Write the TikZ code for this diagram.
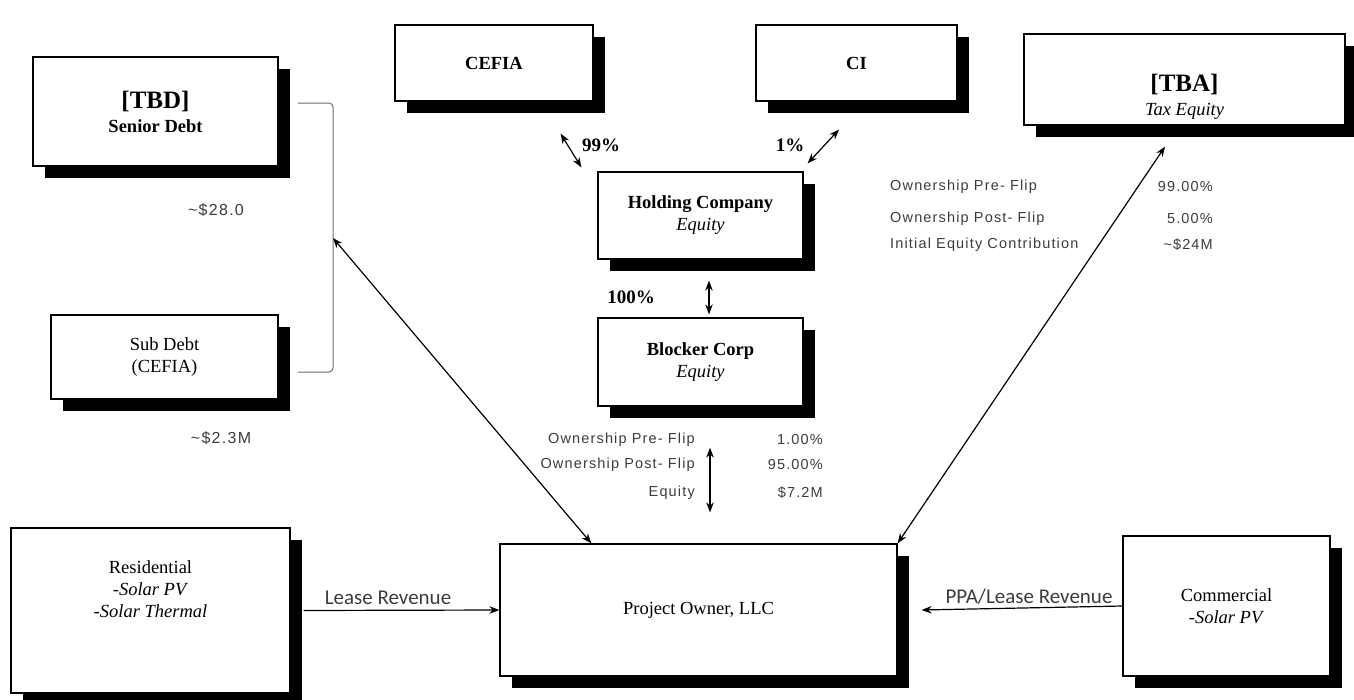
\documentclass[tikz,border=0pt]{standalone}
\usepackage{fontspec}
\setmainfont{Liberation Serif}
\setsansfont{Liberation Sans}
\newfontfamily\calibri{Carlito}
\newfontfamily\termfont[LetterSpace=8]{Liberation Sans}
\usetikzlibrary{arrows.meta,shadows}
\definecolor{notegray}{RGB}{60,60,60}
\definecolor{bracketgray}{RGB}{110,110,110}

\begin{document}
\begin{tikzpicture}[x=1pt, y=-1pt,
    box/.style={draw, fill=white, line width=1.2pt, align=center,
        drop shadow={shadow xshift=12pt, shadow yshift=-12pt, fill=black, opacity=1},
        font=\fontsize{18.5}{22}\selectfont},
    boxtext/.style={align=center, font=\fontsize{18.5}{22}\selectfont},
    amount/.style={font=\termfont\fontsize{16}{18}\selectfont, text=notegray},
    term/.style={font=\termfont\fontsize{14.5}{16}\selectfont, text=notegray, inner sep=0pt},
    share/.style={font=\bfseries\fontsize{19}{22}\selectfont},
    flow/.style={font=\calibri\fontsize{21}{24}\selectfont, text=notegray},
    link/.style={line width=1.2pt, {Stealth[length=10pt,width=7.5pt]}-{Stealth[length=10pt,width=7.5pt]}},
    feed/.style={line width=1.2pt, -{Stealth[length=10pt,width=7.5pt]}}
]
\useasboundingbox (0,0) rectangle (1354,699);

% lenders
\node[box, minimum width=245, minimum height=109] (tbd) at (155.5,111.5)
  {{\fontsize{25}{27}\selectfont\bfseries [TBD]}\\[2pt] \textbf{Senior Debt}};
\node[box, minimum width=227, minimum height=84] (sub) at (164.5,357) {Sub Debt\\(CEFIA)};

% sponsors
\node[box, minimum width=198, minimum height=76] (cefia) at (494,63) {\textbf{CEFIA}};
\node[box, minimum width=201, minimum height=76] (ci) at (856.5,63) {\textbf{CI}};
\node[box, minimum width=321, minimum height=91,
  label={[boxtext, yshift=-17pt]center:{{\fontsize{25}{27}\selectfont\bfseries [TBA]}\\[2pt] \textit{Tax Equity}}}] (tba) at (1184.5,79.5) {};
\node[box, minimum width=205, minimum height=87] (hold) at (700.5,215.5) {\textbf{Holding Company}\\\textit{Equity}};
\node[box, minimum width=205, minimum height=88] (block) at (700.5,362) {\textbf{Blocker Corp}\\\textit{Equity}};

% project and customers
\node[box, minimum width=397, minimum height=132] (owner) at (698.5,610) {Project Owner, LLC};
\node[box, minimum width=279, minimum height=165,
  label={[boxtext, yshift=21pt]center:{Residential\\\textit{-Solar PV}\\\textit{-Solar Thermal}}}] (res) at (150.5,610.5) {};
\node[box, minimum width=207, minimum height=140] (com) at (1226.5,606) {Commercial\\\textit{-Solar PV}};

% debt bracket
\coordinate (brtop) at (298,103);
\coordinate (brbot) at (298,372);
\coordinate (brmid) at (333,238);
\draw[bracketgray, line width=1pt, rounded corners=4pt] (brtop) -- ++(35,0) -- ++(0,269) -- (brbot);

\draw[link] (brmid) -- ([xshift=92pt]owner.north west);
\draw[link] ([xshift=-19.5pt,yshift=-21pt]tba.south) -- (owner.north east);
\draw[link] ([xshift=-33pt,yshift=-32pt]cefia.south east) -- ([xshift=-16pt,yshift=4pt]hold.north west);
\draw[link] ([xshift=-17.5pt,yshift=-28pt]ci.south) -- ([xshift=4pt,yshift=8pt]hold.north east);
\draw[link] ([xshift=8.5pt,yshift=-21pt]hold.south) -- ([xshift=8.5pt,yshift=3pt]block.north);
\draw[link] ([xshift=9.5pt,yshift=-41pt]block.south) -- ([xshift=11.5pt,yshift=31pt]owner.north);
\draw[feed] ([xshift=13pt]res.east) -- (owner.west);
\draw[feed] (com.west) -- ([xshift=24pt]owner.east);

\node[amount] (amtsenior) at (216,210) {\textasciitilde\$28.0};
\node[amount] (amtsub) at (221,438) {\textasciitilde\$2.3M};
\node[share] (pctcefia) at (601,145) {99\%};
\node[share] (pctci) at (790,145) {1\%};
\node[share] (pcthold) at (631,297) {100\%};

% tax equity terms
\node[term, anchor=west] (tepre) at (890,187) {Ownership Pre- Flip};
\node[term, anchor=west] (tepost) at (890,219) {Ownership Post- Flip};
\node[term, anchor=west] (teinit) at (890,245) {Initial Equity Contribution};
\node[term, anchor=east] (teprev) at (1213,187) {99.00\%};
\node[term, anchor=east] (tepostv) at (1213,219) {5.00\%};
\node[term, anchor=east] (teinitv) at (1213,245) {\textasciitilde\$24M};

% blocker terms
\node[term, anchor=east] (blpre) at (695,440) {Ownership Pre- Flip};
\node[term, anchor=east] (blpost) at (695,465) {Ownership Post- Flip};
\node[term, anchor=east] (bleq) at (695,493) {Equity};
\node[term, anchor=east] (blprev) at (823,440) {1.00\%};
\node[term, anchor=east] (blpostv) at (823,465) {95.00\%};
\node[term, anchor=east] (bleqv) at (823,493) {\$7.2M};

\node[flow] (leaselbl) at (388,598) {Lease Revenue};
\node[flow] (ppalbl) at (1029,597) {PPA/Lease Revenue};
\end{tikzpicture}
\end{document}
